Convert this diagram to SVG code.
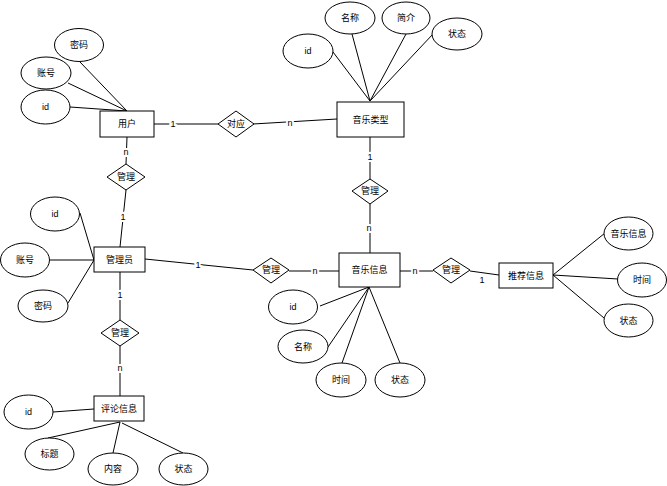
<svg xmlns="http://www.w3.org/2000/svg" width="667" height="486" viewBox="0 0 667 486">
<style>
.e{fill:#fff;stroke:#000;stroke-width:1}
.r{fill:#fff;stroke:#000;stroke-width:1}
.d{fill:#fff;stroke:#000;stroke-width:1}
.l{stroke:#000;stroke-width:1;fill:none}
text{font-family:"Liberation Sans","Noto Sans CJK SC",sans-serif;font-size:9px;fill:#000;text-anchor:middle;dominant-baseline:central}
.lb{stroke:#fff;stroke-width:4;paint-order:stroke}
</style>
<rect width="667" height="486" fill="#fff"/>
<g id="connectors">
<line class="l" x1="80" y1="62" x2="127" y2="111"/>
<line class="l" x1="68" y1="83" x2="127" y2="111"/>
<line class="l" x1="70" y1="107" x2="127" y2="111"/>
<line class="l" x1="154" y1="124" x2="218" y2="124"/>
<line class="l" x1="127" y1="137" x2="126" y2="164"/>
<line class="l" x1="333" y1="52" x2="370" y2="101"/>
<line class="l" x1="352" y1="34" x2="370" y2="101"/>
<line class="l" x1="406" y1="34" x2="370" y2="101"/>
<line class="l" x1="433" y1="34" x2="370" y2="101"/>
<line class="l" x1="253" y1="124" x2="337" y2="119"/>
<line class="l" x1="370" y1="137" x2="370" y2="179"/>
<line class="l" x1="126" y1="190" x2="120" y2="247"/>
<line class="l" x1="80" y1="213" x2="94" y2="260"/>
<line class="l" x1="50" y1="260" x2="94" y2="260"/>
<line class="l" x1="68" y1="303" x2="94" y2="260"/>
<line class="l" x1="145" y1="259" x2="253" y2="270"/>
<line class="l" x1="120" y1="272" x2="120" y2="320"/>
<line class="l" x1="370" y1="204" x2="370" y2="253"/>
<line class="l" x1="289" y1="271" x2="339" y2="271"/>
<line class="l" x1="400" y1="271" x2="433" y2="271"/>
<line class="l" x1="369" y1="287" x2="320" y2="306"/>
<line class="l" x1="369" y1="287" x2="328" y2="347"/>
<line class="l" x1="369" y1="287" x2="342" y2="363"/>
<line class="l" x1="369" y1="287" x2="400" y2="363"/>
<line class="l" x1="470" y1="271" x2="499" y2="275"/>
<line class="l" x1="553" y1="275" x2="605" y2="233"/>
<line class="l" x1="553" y1="275" x2="618" y2="279"/>
<line class="l" x1="553" y1="275" x2="604" y2="318"/>
<line class="l" x1="120" y1="346" x2="120" y2="396"/>
<line class="l" x1="53" y1="412" x2="94" y2="409"/>
<line class="l" x1="48" y1="438" x2="120" y2="422"/>
<line class="l" x1="113" y1="453" x2="120" y2="422"/>
<line class="l" x1="122" y1="423" x2="183" y2="453"/>
<text class="lb" x="173" y="124">1</text>
<text class="lb" x="126" y="152">n</text>
<text class="lb" x="290" y="123">n</text>
<text class="lb" x="370" y="157">1</text>
<text class="lb" x="123" y="217">1</text>
<text class="lb" x="198" y="265">1</text>
<text class="lb" x="120" y="295">1</text>
<text class="lb" x="369" y="228">n</text>
<text class="lb" x="315" y="271">n</text>
<text class="lb" x="415" y="271">n</text>
<text x="482" y="280">1</text>
<text class="lb" x="120" y="368">n</text>
</g>
<g id="user"><rect class="r" x="100" y="111" width="54" height="26"/><text x="127" y="124">用户</text></g>
<g id="user-pwd"><ellipse class="e" cx="79" cy="45" rx="24.5" ry="16.5"/><text x="79" y="45">密码</text></g>
<g id="user-acc"><ellipse class="e" cx="46" cy="73" rx="25" ry="16"/><text x="46" y="73">账号</text></g>
<g id="user-id"><ellipse class="e" cx="45.5" cy="107" rx="24.5" ry="17"/><text x="45.5" y="107">id</text></g>
<g id="rel-duiying"><polygon class="d" points="218,124 236,111 254,124 236,137"/><text x="236" y="124">对应</text></g>
<g id="rel-user-admin"><polygon class="d" points="107,177 126,164 145,177 126,190"/><text x="126" y="177">管理</text></g>
<g id="musictype"><rect class="r" x="337" y="102" width="67" height="35"/><text x="370.5" y="119.5">音乐类型</text></g>
<g id="mt-id"><ellipse class="e" cx="308" cy="51" rx="25" ry="17"/><text x="308" y="51">id</text></g>
<g id="mt-name"><ellipse class="e" cx="350" cy="18" rx="25" ry="16"/><text x="350" y="18">名称</text></g>
<g id="mt-intro"><ellipse class="e" cx="406" cy="18" rx="24" ry="16"/><text x="406" y="18">简介</text></g>
<g id="mt-status"><ellipse class="e" cx="457" cy="34" rx="25" ry="16"/><text x="457" y="34">状态</text></g>
<g id="rel-mt-music"><polygon class="d" points="352,191 370,179 388,191 370,204"/><text x="370" y="191">管理</text></g>
<g id="admin"><rect class="r" x="94" y="247" width="51" height="25"/><text x="119.5" y="259.5">管理员</text></g>
<g id="admin-id"><ellipse class="e" cx="55" cy="214" rx="24.5" ry="17"/><text x="55" y="214">id</text></g>
<g id="admin-acc"><ellipse class="e" cx="25" cy="260" rx="24.5" ry="17"/><text x="25" y="260">账号</text></g>
<g id="admin-pwd"><ellipse class="e" cx="43" cy="306" rx="25" ry="16"/><text x="43" y="306">密码</text></g>
<g id="rel-admin-music"><polygon class="d" points="253,270 271,258 289,270 271,283"/><text x="271" y="270">管理</text></g>
<g id="rel-admin-comment"><polygon class="d" points="101,333 120,320 139,333 120,346"/><text x="120" y="333">管理</text></g>
<g id="music"><rect class="r" x="339" y="253" width="61" height="34"/><text x="369.5" y="270">音乐信息</text></g>
<g id="m-id"><ellipse class="e" cx="293" cy="307" rx="24.5" ry="17"/><text x="293" y="307">id</text></g>
<g id="m-name"><ellipse class="e" cx="303" cy="346.5" rx="25" ry="16.5"/><text x="303" y="346.5">名称</text></g>
<g id="m-time"><ellipse class="e" cx="341" cy="380" rx="25" ry="17"/><text x="341" y="380">时间</text></g>
<g id="m-status"><ellipse class="e" cx="400" cy="380" rx="25" ry="17"/><text x="400" y="380">状态</text></g>
<g id="rel-music-rec"><polygon class="d" points="433,270 451,258 470,270 451,283"/><text x="451" y="270">管理</text></g>
<g id="recommend"><rect class="r" x="499" y="263" width="54" height="25"/><text x="526" y="275.5">推荐信息</text></g>
<g id="r-music"><ellipse class="e" cx="628.5" cy="233.5" rx="24.5" ry="16.5"/><text x="628.5" y="233.5">音乐信息</text></g>
<g id="r-time"><ellipse class="e" cx="642" cy="280" rx="24.5" ry="17"/><text x="642" y="280">时间</text></g>
<g id="r-status"><ellipse class="e" cx="628.5" cy="320.5" rx="24.5" ry="16.5"/><text x="628.5" y="320.5">状态</text></g>
<g id="comment"><rect class="r" x="94" y="396" width="50" height="25"/><text x="119" y="408.5">评论信息</text></g>
<g id="c-id"><ellipse class="e" cx="28.5" cy="412" rx="24.5" ry="17"/><text x="28.5" y="412">id</text></g>
<g id="c-title"><ellipse class="e" cx="49.5" cy="454" rx="24.5" ry="16"/><text x="49.5" y="454">标题</text></g>
<g id="c-content"><ellipse class="e" cx="113" cy="469" rx="25" ry="16"/><text x="113" y="469">内容</text></g>
<g id="c-status"><ellipse class="e" cx="183.5" cy="469" rx="24.5" ry="16"/><text x="183.5" y="469">状态</text></g>
</svg>
